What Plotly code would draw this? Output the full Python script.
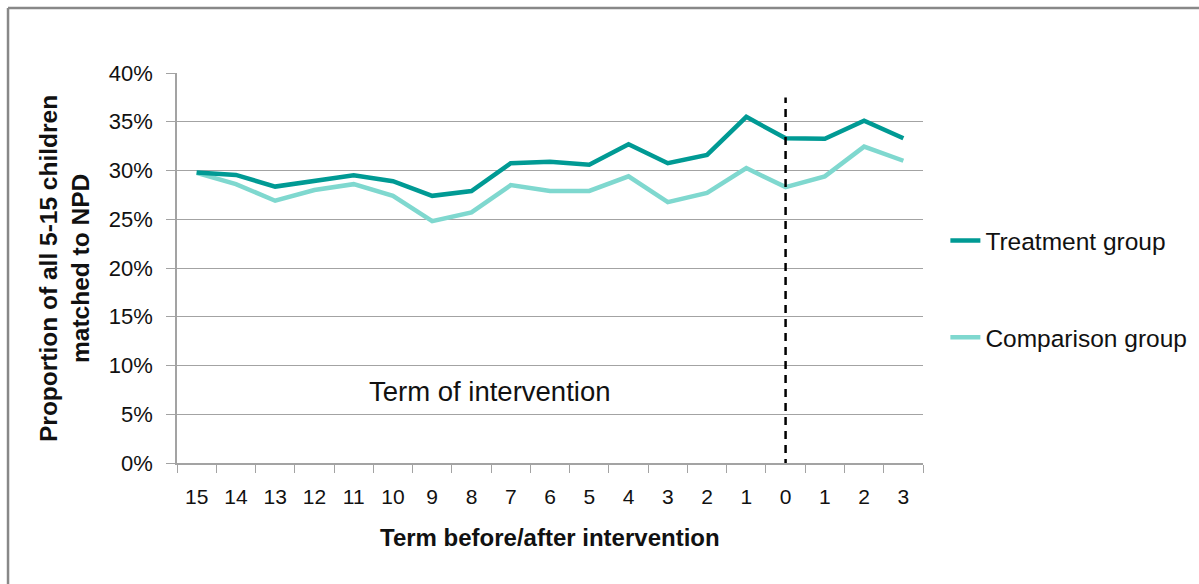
import plotly.graph_objects as go

term_labels = ["15", "14", "13", "12", "11", "10", "9", "8", "7", "6", "5",
               "4", "3", "2", "1", "0", "1", "2", "3"]
treatment = [0.298, 0.2955, 0.2835, 0.2895, 0.295, 0.289, 0.274, 0.279, 0.3075,
             0.309, 0.306, 0.327, 0.3075, 0.316, 0.355, 0.333, 0.3325, 0.351, 0.333]
comparison = [0.2975, 0.286, 0.269, 0.280, 0.286, 0.274, 0.248, 0.257, 0.285,
              0.279, 0.279, 0.294, 0.2675, 0.277, 0.3025, 0.283, 0.294, 0.3245, 0.310]
y_ticks = [0, 0.05, 0.10, 0.15, 0.20, 0.25, 0.30, 0.35, 0.40]
intervention_index = 15

x_idx = list(range(len(term_labels)))
FONT = "Liberation Sans"
GRID = "#a3a3a3"

fig = go.Figure()
fig.add_trace(go.Scatter(x=x_idx, y=comparison, mode="lines", name="Comparison group",
                         line=dict(color="#7fd8cf", width=4.5),
                         legendgroup="c", legendrank=2))
fig.add_trace(go.Scatter(x=x_idx, y=treatment, mode="lines", name="Treatment group",
                         line=dict(color="#009a94", width=4.5),
                         legendgroup="t", legendrank=1))

fig.update_layout(
    width=1199, height=584,
    margin=dict(l=177, r=276, t=73, b=121, autoexpand=False),
    paper_bgcolor="white", plot_bgcolor="white",
    font=dict(family=FONT, color="#111111"),
    showlegend=True,
    legend=dict(x=1.03, xanchor="left", y=0.628, yanchor="top",
                traceorder="grouped", tracegroupgap=62,
                font=dict(size=24.5, family=FONT, color="#111111"),
                bgcolor="rgba(0,0,0,0)"),
    xaxis=dict(range=[-0.5, len(term_labels) - 0.5],
               tickmode="array", tickvals=x_idx, ticktext=term_labels,
               ticks="", showgrid=False, zeroline=False,
               showline=True, linecolor=GRID, linewidth=1.5,
               tickfont=dict(size=21, family=FONT, color="#111111"),
               ticklabelstandoff=14,
               minor=dict(tick0=-0.5, dtick=1, ticks="outside", ticklen=8,
                          tickcolor=GRID, tickwidth=1.3, showgrid=False)),
    yaxis=dict(range=[0, 0.4], tickmode="array", tickvals=y_ticks,
               tickformat=".0%", ticks="outside", ticklen=9, tickcolor=GRID,
               tickwidth=1.3,
               showgrid=True, gridcolor=GRID, gridwidth=1.3,
               zeroline=False, showline=True, linecolor=GRID, linewidth=1.5,
               tickfont=dict(size=22, family=FONT, color="#111111"),
               ticklabelstandoff=9),
)

# dashed intervention marker
fig.add_shape(type="line", xref="x", yref="y",
              x0=intervention_index, x1=intervention_index, y0=-0.004, y1=0.375,
              line=dict(color="black", width=2.5, dash="8px,6px"))

# outer chart frame (left and top edges)
fig.add_shape(type="line", xref="paper", yref="paper",
              x0=-0.2265, x1=-0.2265, y0=-0.5, y1=1.1667,
              line=dict(color="#888888", width=2.5))
fig.add_shape(type="line", xref="paper", yref="paper",
              x0=-0.2265, x1=1.5, y0=1.1667, y1=1.1667,
              line=dict(color="#888888", width=2.5))

fig.add_annotation(text="Term of intervention", xref="x", yref="y",
                   x=7.47, y=0.073, showarrow=False,
                   font=dict(size=27.5, family=FONT, color="#111111"))
fig.add_annotation(text="Proportion of all 5-15 children<br>matched to NPD",
                   xref="paper", yref="paper", x=-0.1515, y=0.5,
                   xanchor="center", yanchor="middle",
                   textangle=-90, showarrow=False,
                   font=dict(size=24.5, family=FONT, color="#111111", weight="bold"))
fig.add_annotation(text="Term before/after intervention",
                   xref="paper", yref="paper", x=0.5, y=-0.192,
                   showarrow=False, yanchor="middle",
                   font=dict(size=24, family=FONT, color="#111111", weight="bold"))

fig.write_html("out.html", config={"displayModeBar": False},
               post_script="document.body.style.margin='0';")
